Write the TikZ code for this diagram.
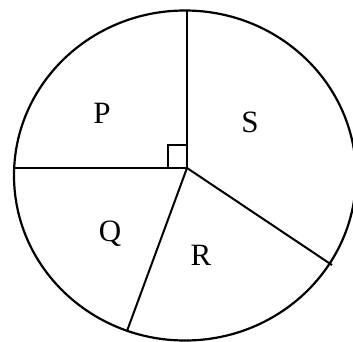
\documentclass[tikz,border=0pt]{standalone}
\usepackage{fontspec}
\setmainfont{Liberation Serif}
\usetikzlibrary{positioning}
\begin{document}
\begin{tikzpicture}[
      x=1pt, y=-1pt,
      rim/.style={line width=2.2pt, black},
      spoke/.style={line width=2pt, black},
      sector/.style={font=\fontsize{31}{31}\selectfont, inner sep=0pt}
    ]
    \useasboundingbox (0,0) rectangle (353,342);
    \draw[rim] (185,175.5) ellipse [x radius=171, y radius=165];
    \coordinate (o) at (187,168);
    \coordinate (top) at (187,10.5);
    \coordinate (left) at (14,168);
    \coordinate (low) at (127,331);
    \coordinate (right) at (332,265);
    \draw[spoke] (o) -- (top);
    \draw[spoke] (o) -- (left);
    \draw[spoke] (o) -- (low);
    \draw[spoke] (o) -- (right);
    % right angle mark
    \draw[line width=1.5pt] (o) ++(-19,0) -- ++(0,-23) -- ++(19,0);
    \node[sector] (p) at (102,113) {P};
    \node[sector] (s) at (250,122) {S};
    \node[sector] (q) at (110,234) {Q};
    \node[sector] (r) at (201,255) {R};
  \end{tikzpicture}
\end{document}
